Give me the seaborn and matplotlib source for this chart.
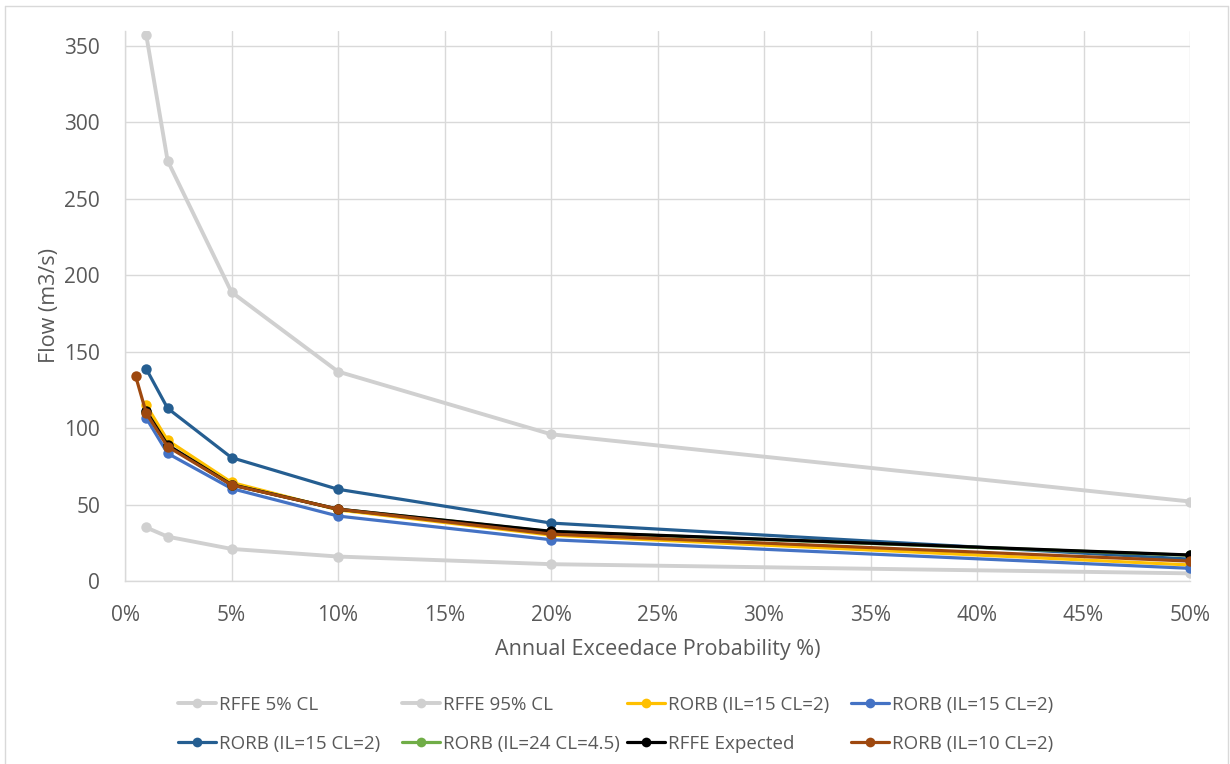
import matplotlib
matplotlib.use("Agg")
import matplotlib.pyplot as plt
import seaborn as sns
import pandas as pd
from matplotlib.lines import Line2D
from matplotlib.ticker import FuncFormatter, MultipleLocator

# Annual exceedance probabilities (%)
aep = [1, 2, 5, 10, 20, 50]
aep_rorb10 = [0.5, 1, 2, 5, 10, 20, 50]

# Peak flows (m3/s)
rffe_5 = [35, 29, 21, 16, 11, 5]
rffe_95 = [357, 275, 189, 137, 96, 52]
rorb_il15_a = [115, 92, 64.5, 46.5, 30, 10.5]
rorb_il15_b = [106.5, 83.5, 60.5, 42.5, 27, 8.3]
rorb_il15_c = [138.7, 113, 80.7, 60, 37.9, 14.3]
rorb_il24 = [110.5, 88.5, 63, 47, 32.3, 16.8]
rffe_expected = [111, 89, 63, 47, 32.5, 17]
rorb_il10 = [134, 109.7, 87.9, 62.8, 47, 30.7, 13]

labels = ["RFFE 5% CL", "RFFE 95% CL", "RORB (IL=15 CL=2)", "RORB (IL=15 CL=2)",
          "RORB (IL=15 CL=2)", "RORB (IL=24 CL=4.5)", "RFFE Expected", "RORB (IL=10 CL=2)"]
colors = ["#D0D0D0", "#D0D0D0", "#FFC000", "#4472C4",
          "#255E91", "#70AD47", "#000000", "#9E480E"]
widths = [2.8, 2.8, 2.3, 2.3, 2.3, 2.3, 2.3, 2.3]
xs = [aep, aep, aep, aep, aep, aep, aep, aep_rorb10]
ys = [rffe_5, rffe_95, rorb_il15_a, rorb_il15_b, rorb_il15_c, rorb_il24, rffe_expected, rorb_il10]

sns.set_style("white")
plt.rcParams["font.family"] = ["Open Sans", "DejaVu Sans"]

W, H = 1230, 764
fig = plt.figure(figsize=(W / 100, H / 100), dpi=100)
ax = fig.add_axes([125 / W, 1 - 581 / H, (1190 - 125) / W, (581 - 30.7) / H])

text_col = "#595959"
grid_col = "#D9D9D9"

for x, y, c, lw in zip(xs, ys, colors, widths):
    df = pd.DataFrame({"aep": x, "flow": y})
    sns.lineplot(data=df, x="aep", y="flow", color=c, marker="o", markersize=7.5,
                 markeredgewidth=0, linewidth=lw, sort=False, estimator=None,
                 ax=ax, legend=False)

ax.set_xlim(0, 50)
ax.set_ylim(0, 360)
ax.xaxis.set_major_locator(MultipleLocator(5))
ax.yaxis.set_major_locator(MultipleLocator(50))
ax.xaxis.set_major_formatter(FuncFormatter(lambda v, p: f"{v:.0f}%"))
ax.grid(True, color=grid_col, linewidth=1.0)
ax.set_axisbelow(True)
for s in ["top", "right"]:
    ax.spines[s].set_visible(False)
for s in ["left", "bottom"]:
    ax.spines[s].set_color(grid_col)
    ax.spines[s].set_linewidth(1.0)
ax.tick_params(axis="both", length=0, labelsize=15, labelcolor=text_col)
ax.tick_params(axis="x", pad=17)
ax.tick_params(axis="y", pad=18)

ax.set_xlabel("Annual Exceedace Probability %)", fontsize=15.5, color=text_col, labelpad=10)
ax.set_ylabel("Flow (m3/s)", fontsize=15.5, color=text_col, labelpad=3)

# Legend: four columns, two rows
col_x = [178, 402, 627, 851]
for ci in range(4):
    handles = []
    lbls = []
    for ri in range(2):
        idx = ri * 4 + ci
        handles.append(Line2D([0], [0], color=colors[idx], linewidth=widths[idx], marker="o",
                              markersize=7, markeredgewidth=0))
        lbls.append(labels[idx])
    fig.legend(handles, lbls, loc="upper left", bbox_to_anchor=(col_x[ci] / W, 1 - 696 / H),
               frameon=False, fontsize=13.5, handlelength=2.0, handletextpad=0.2,
               labelspacing=1.12, borderpad=0, borderaxespad=0, labelcolor=text_col)

# Chart border
for (x0, y0, x1, y1) in [(5, 6, 1228, 6), (5, 6, 5, 764), (1228, 6, 1228, 764)]:
    fig.add_artist(Line2D([x0 / W, x1 / W], [1 - y0 / H, 1 - y1 / H],
                          color=grid_col, linewidth=1.0))

fig.savefig("out.png", dpi=100)
